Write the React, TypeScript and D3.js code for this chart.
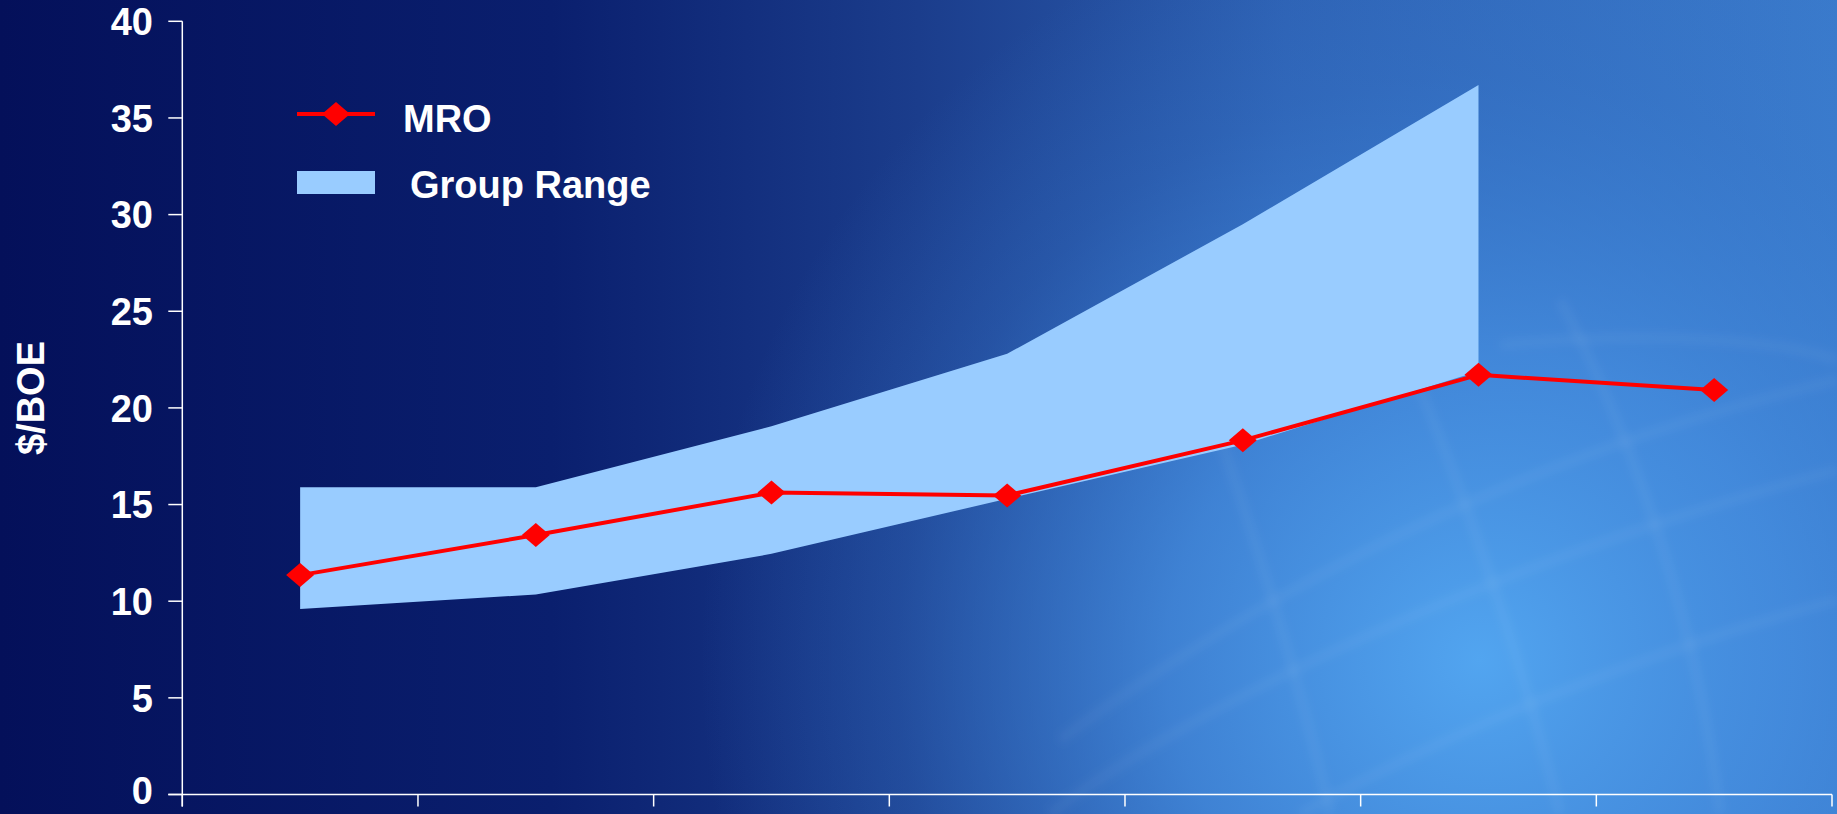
import React from "react";
import * as d3 from "d3";

const categories = ["1", "2", "3", "4", "5", "6", "7"];
const mroValues = [11.35, 13.42, 15.62, 15.47, 18.32, 21.71, 20.93];
const rangeLow = [9.6, 10.35, 12.45, 15.3, 18.1, 21.9];
const rangeHigh = [15.9, 15.9, 19.05, 22.8, 29.5, 36.7];
const yTicks = [0, 5, 10, 15, 20, 25, 30, 35, 40];
const legendLabels = ["MRO", "Group Range"];
const yTitle = "$/BOE";

const W = 1837;
const H = 814;
const FONT = "'Liberation Sans', Arial, sans-serif";

export default function App() {
  const x = d3.scaleLinear().domain([0, categories.length]).range([182.3, 1832]);
  const y = d3.scaleLinear().domain([0, 40]).range([794.5, 21.3]);

  const band = d3
    .area<number>()
    .x((_, i) => x(i + 0.5))
    .y0((_, i) => y(rangeLow[i]))
    .y1((d) => y(d));
  const line = d3
    .line<number>()
    .x((_, i) => x(i + 0.5))
    .y((d) => y(d));

  const diamond = (cx: number, cy: number) =>
    `M${cx - 14},${cy} L${cx},${cy - 12} L${cx + 14},${cy} L${cx},${cy + 12} Z`;

  const xTickVals = d3.range(0, categories.length + 1);

  // decorative globe arcs for the background
  const arcs = [
    "M1050,814 C1200,700 1500,560 1837,470",
    "M1300,814 C1450,730 1650,650 1837,600",
    "M1060,740 C1250,600 1500,460 1837,380",
    "M1390,320 C1450,450 1520,650 1560,814",
    "M1560,300 C1640,450 1700,640 1720,814",
    "M1200,380 C1250,520 1300,680 1330,814",
    "M1500,345 C1650,330 1780,340 1837,360",
  ];

  return (
    <svg
      width={W}
      height={H}
      style={{ position: "absolute", left: 0, top: 0, display: "block" }}
    >
      <defs>
        <linearGradient id="bg" x1="0" y1="0" x2="1" y2="0">
          <stop offset="0" stopColor="#04105a" />
          <stop offset="0.3" stopColor="#0a1f6e" />
          <stop offset="0.5" stopColor="#1b3d8c" />
          <stop offset="0.7" stopColor="#2d60b2" />
          <stop offset="1" stopColor="#3a7acb" />
        </linearGradient>
        <radialGradient id="glow" cx="1480" cy="660" r="780" gradientUnits="userSpaceOnUse">
          <stop offset="0" stopColor="#52a5f0" stopOpacity="1" />
          <stop offset="0.4" stopColor="#4690e2" stopOpacity="0.75" />
          <stop offset="0.75" stopColor="#3a7fd4" stopOpacity="0.25" />
          <stop offset="1" stopColor="#3a80d6" stopOpacity="0" />
        </radialGradient>
        <filter id="blur" x="-10%" y="-10%" width="120%" height="120%">
          <feGaussianBlur stdDeviation="4" />
        </filter>
      </defs>

      <rect x={0} y={0} width={W} height={H} fill="url(#bg)" />
      <rect x={0} y={0} width={W} height={H} fill="url(#glow)" />
      <g filter="url(#blur)" fill="none" stroke="#ffffff" strokeOpacity={0.045} strokeWidth={10}>
        {arcs.map((d, i) => (
          <path key={i} d={d} />
        ))}
      </g>

      {/* Group range band */}
      <path d={band(rangeHigh) || ""} fill="#99ccff" />

      {/* MRO line */}
      <path d={line(mroValues) || ""} fill="none" stroke="#ff0000" strokeWidth={4} strokeLinejoin="round" />
      {mroValues.map((v, i) => (
        <path key={i} d={diamond(x(i + 0.5), y(v))} fill="#ff0000" />
      ))}

      {/* Axes */}
      <g stroke="#ffffff" strokeWidth={1.5}>
        <line x1={x(0)} x2={x(0)} y1={y(40)} y2={y(0) + 12} />
        {yTicks.map((t) => (
          <line key={t} x1={x(0) - 14} x2={x(0)} y1={y(t)} y2={y(t)} />
        ))}
        <line x1={x(0) - 14} x2={x(categories.length)} y1={y(0)} y2={y(0)} />
        {xTickVals.map((t) => (
          <line key={t} x1={x(t)} x2={x(t)} y1={y(0)} y2={y(0) + 12} />
        ))}
      </g>
      {yTicks.map((t) => (
        <text
          key={t}
          x={153}
          y={Math.min(y(t), 790)}
          dy="0.36em"
          textAnchor="end"
          fill="#ffffff"
          fontFamily={FONT}
          fontWeight="bold"
          fontSize={38}
        >
          {t}
        </text>
      ))}

      <text
        transform={`translate(44,398) rotate(-90)`}
        textAnchor="middle"
        fill="#ffffff"
        fontFamily={FONT}
        fontWeight="bold"
        fontSize={38}
      >
        {yTitle}
      </text>

      {/* Legend */}
      <line x1={297} x2={375} y1={114} y2={114} stroke="#ff0000" strokeWidth={4} />
      <path d={diamond(336, 114)} fill="#ff0000" />
      <text x={403} y={132} fill="#ffffff" fontFamily={FONT} fontWeight="bold" fontSize={38}>
        {legendLabels[0]}
      </text>
      <rect x={297} y={171} width={78} height={23} fill="#99ccff" />
      <text x={410} y={198} fill="#ffffff" fontFamily={FONT} fontWeight="bold" fontSize={38}>
        {legendLabels[1]}
      </text>
    </svg>
  );
}
